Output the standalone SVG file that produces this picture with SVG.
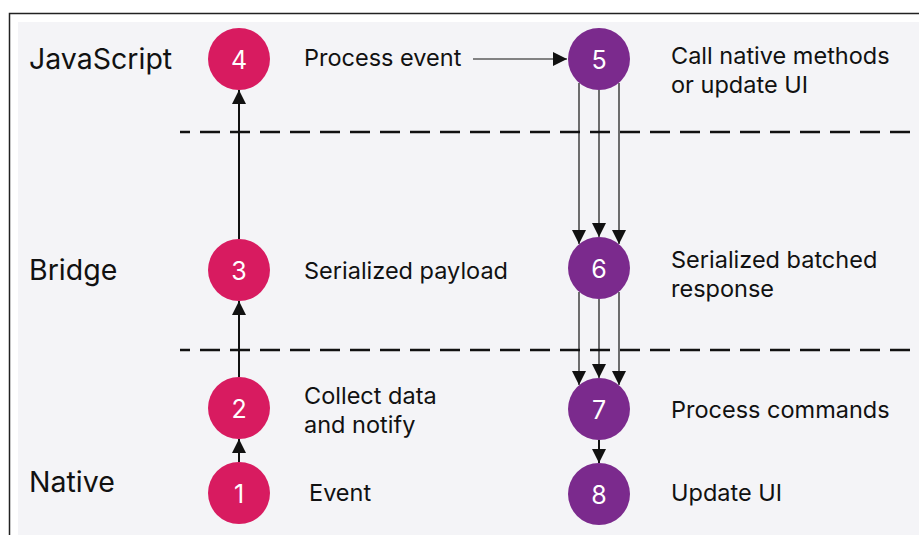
<svg xmlns="http://www.w3.org/2000/svg" width="919" height="535" viewBox="0 0 919 535">
  <style>
    .lane { font-family: Inter, "Noto Sans", sans-serif; font-size: 28.5px; fill: #111; }
    .lbl { font-family: Inter, "Noto Sans", sans-serif; font-size: 23.5px; fill: #111; }
    .num { font-family: Inter, "Noto Sans", sans-serif; font-size: 25px; fill: #fff; text-anchor: middle; dominant-baseline: central; }
    .pink { fill: #d81b60; }
    .purple { fill: #7b2a8d; }
    .sep { stroke: #111; stroke-width: 2.5; stroke-dasharray: 20 10; stroke-dashoffset: 10; fill: none; }
    .thick { stroke: #111; stroke-width: 2; fill: none; marker-end: url(#head); }
    .thin { stroke: #111; stroke-width: 1.2; fill: none; marker-end: url(#head); }
  </style>
  <defs>
    <marker id="head" viewBox="0 0 14 14" refX="14" refY="7" markerWidth="14" markerHeight="14" markerUnits="userSpaceOnUse" orient="auto">
      <path d="M0,0 L14,7 L0,14 Z" fill="#111"/>
    </marker>
  </defs>

  <!-- frame and panel -->
  <rect x="0" y="0" width="919" height="535" fill="#fff"/>
  <rect x="9.5" y="13.5" width="920" height="530" fill="#fff" stroke="#222" stroke-width="1.5"/>
  <rect x="18" y="22" width="901" height="513" fill="#f4f4f7"/>

  <!-- layer separators -->
  <line class="sep" x1="180" y1="132" x2="919" y2="132"/>
  <line class="sep" x1="180" y1="350" x2="919" y2="350"/>

  <!-- layer titles -->
  <text class="lane" x="29" y="69">JavaScript</text>
  <text class="lane" x="29" y="280">Bridge</text>
  <text class="lane" x="29" y="492">Native</text>

  <!-- connectors -->
  <g id="connectors">
    <line class="thick" x1="239" y1="462" x2="239" y2="439"/>
    <line class="thick" x1="239" y1="377" x2="239" y2="301"/>
    <line class="thick" x1="239" y1="239" x2="239" y2="90"/>
    <line class="thin" x1="473" y1="59" x2="567" y2="59"/>
    <line class="thin" x1="579" y1="83" x2="579" y2="244"/>
    <line class="thin" x1="599" y1="90" x2="599" y2="237"/>
    <line class="thin" x1="619" y1="83" x2="619" y2="244"/>
    <line class="thin" x1="579" y1="292" x2="579" y2="385"/>
    <line class="thin" x1="599" y1="299" x2="599" y2="378"/>
    <line class="thin" x1="619" y1="292" x2="619" y2="385"/>
    <line class="thick" x1="599" y1="440" x2="599" y2="463"/>
  </g>

  <!-- nodes -->
  <g id="node1"><circle class="pink" cx="239" cy="493" r="31"/><text class="num" x="239" y="494">1</text><text class="lbl" x="309" y="501">Event</text></g>
  <g id="node2"><circle class="pink" cx="239" cy="408" r="31"/><text class="num" x="239" y="409">2</text><text class="lbl" x="304" y="404">Collect data</text><text class="lbl" x="304" y="433">and notify</text></g>
  <g id="node3"><circle class="pink" cx="239" cy="270" r="31"/><text class="num" x="239" y="271">3</text><text class="lbl" x="304" y="279">Serialized payload</text></g>
  <g id="node4"><circle class="pink" cx="239" cy="59" r="31"/><text class="num" x="239" y="60">4</text><text class="lbl" x="304" y="66">Process event</text></g>
  <g id="node5"><circle class="purple" cx="599" cy="59" r="31"/><text class="num" x="599" y="60">5</text><text class="lbl" x="671" y="63.5">Call native methods</text><text class="lbl" x="671" y="92.5">or update UI</text></g>
  <g id="node6"><circle class="purple" cx="599" cy="268" r="31"/><text class="num" x="599" y="269">6</text><text class="lbl" x="671" y="268">Serialized batched</text><text class="lbl" x="671" y="297">response</text></g>
  <g id="node7"><circle class="purple" cx="599" cy="409" r="31"/><text class="num" x="599" y="410">7</text><text class="lbl" x="671" y="418">Process commands</text></g>
  <g id="node8"><circle class="purple" cx="599" cy="494" r="31"/><text class="num" x="599" y="495">8</text><text class="lbl" x="671" y="501">Update UI</text></g>
</svg>
